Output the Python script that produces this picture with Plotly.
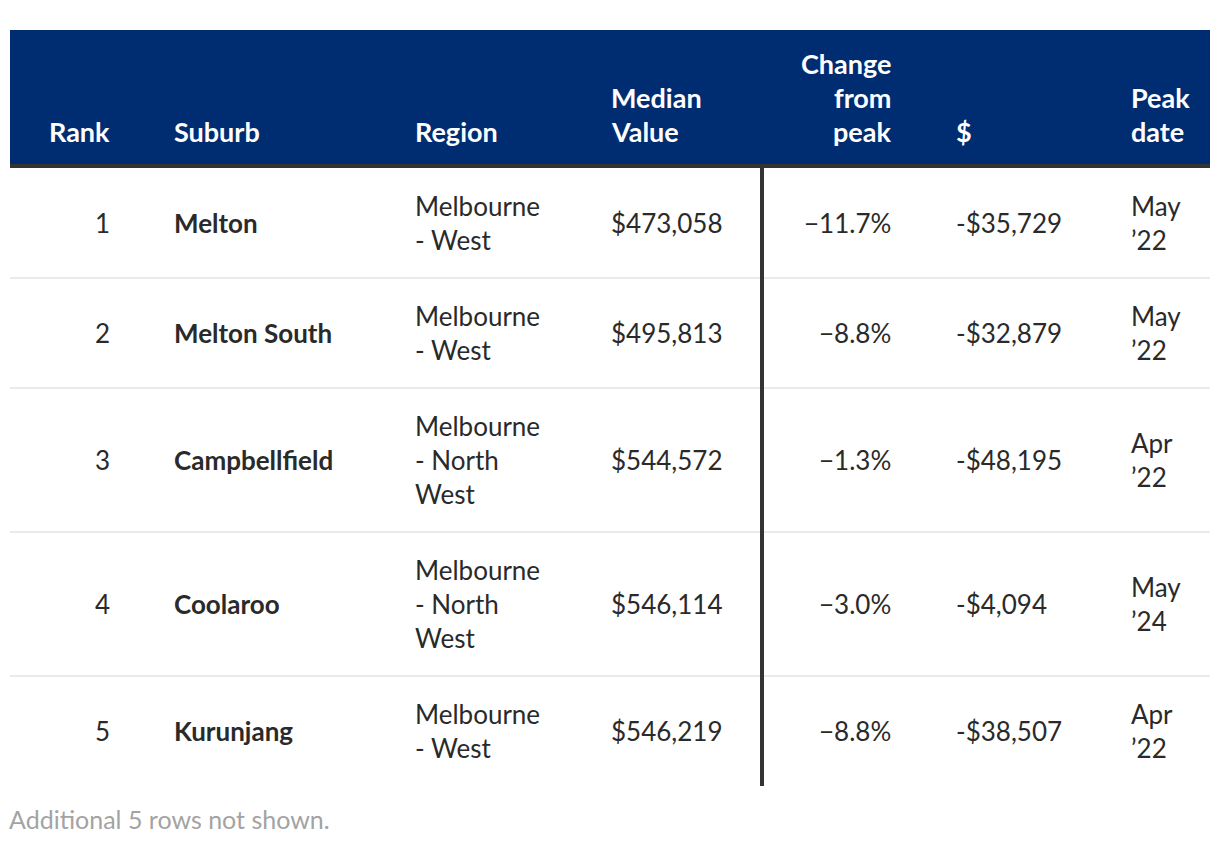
import textwrap
import plotly.graph_objects as go

# ---------------- data ----------------
ranks = ["1", "2", "3", "4", "5"]
suburbs = ["Melton", "Melton South", "Campbellfield", "Coolaroo", "Kurunjang"]
regions = ["Melbourne - West", "Melbourne - West", "Melbourne - North West",
           "Melbourne - North West", "Melbourne - West"]
median_values = ["$473,058", "$495,813", "$544,572", "$546,114", "$546,219"]
change_pct = ["−11.7%", "−8.8%", "−1.3%", "−3.0%", "−8.8%"]
change_dollar = ["-$35,729", "-$32,879", "-$48,195", "-$4,094", "-$38,507"]
peak_dates = ["May ’22", "May ’22", "Apr ’22", "May ’24", "Apr ’22"]
headers = ["Rank", "Suburb", "Region", "Median Value", "Change from peak", "$", "Peak date"]
footnote = "Additional 5 rows not shown."

# ---------------- style / layout ----------------
W, H = 1220, 846
OFF = 8  # page body margin
FONT = "Lato"
NAVY = "#002d72"
DARK = "#333333"
TEXT = "#2a2a2a"
SEP = "#ebebeb"
FS = 26
FS_HEAD = 27
LINE_H = 34
PAD_V = 42
TABLE_L, TABLE_R = 10, 1210
HEAD_TOP, HEAD_BOT = 30, 164
BODY_TOP = 168
# column anchors: (x, anchor, wrap width, bold)
cols = [
    (112, "right", 20, False),
    (172, "left", 30, True),
    (413, "left", 9, False),
    (609, "left", 8, False),
    (893, "right", 6, False),
    (954, "left", 12, False),
    (1129, "left", 4, False),
]
DIVIDER_X = 762

columns_data = [ranks, suburbs, regions, median_values, change_pct, change_dollar, peak_dates]


def wrap(s, w):
    return textwrap.wrap(s, w, break_on_hyphens=False) or [s]


fig = go.Figure()
shapes = []
annotations = []

# header background
shapes.append(dict(type="rect", x0=TABLE_L, x1=TABLE_R, y0=HEAD_TOP, y1=HEAD_BOT,
                   fillcolor=NAVY, line=dict(width=0), layer="below"))
shapes.append(dict(type="rect", x0=TABLE_L, x1=TABLE_R, y0=HEAD_BOT, y1=BODY_TOP,
                   fillcolor=DARK, line=dict(width=0), layer="below"))

# header text (bottom aligned)
HEAD_LAST_Y = 131
for (x, anc, w, _), h in zip(cols, headers):
    lines = wrap(h, w)
    n = len(lines)
    for i, ln in enumerate(lines):
        y = HEAD_LAST_Y - (n - 1 - i) * LINE_H
        annotations.append(dict(x=x, y=y, text="<b>" + ln + "</b>", showarrow=False,
                                xanchor=anc, yanchor="middle",
                                font=dict(family=FONT, size=FS_HEAD, color="white")))

# body rows
y_top = BODY_TOP
n_rows = len(ranks)
for r in range(n_rows):
    cell_lines = [wrap(columns_data[c][r], cols[c][2]) for c in range(len(cols))]
    nmax = max(len(l) for l in cell_lines)
    row_h = nmax * LINE_H + PAD_V
    cy = y_top + row_h / 2
    for c, lines in enumerate(cell_lines):
        x, anc, w, bold = cols[c]
        n = len(lines)
        for i, ln in enumerate(lines):
            y = cy + (i - (n - 1) / 2) * LINE_H
            txt = "<b>" + ln + "</b>" if bold else ln
            annotations.append(dict(x=x, y=y, text=txt, showarrow=False,
                                    xanchor=anc, yanchor="middle",
                                    font=dict(family=FONT, size=FS, color=TEXT)))
    y_top += row_h
    if r < n_rows - 1:
        shapes.append(dict(type="line", x0=TABLE_L, x1=TABLE_R, y0=y_top, y1=y_top,
                           line=dict(color=SEP, width=2)))
body_bottom = y_top

# vertical divider
shapes.append(dict(type="line", x0=DIVIDER_X, x1=DIVIDER_X, y0=BODY_TOP, y1=body_bottom,
                   line=dict(color=DARK, width=4)))

# footnote
annotations.append(dict(x=TABLE_L, y=body_bottom + 33, xshift=-3, text=footnote,
                        showarrow=False, xanchor="left", yanchor="middle",
                        font=dict(family=FONT, size=25, color="#a3a3a3")))

fig.update_layout(
    width=W, height=H,
    margin=dict(l=0, r=0, t=0, b=0),
    paper_bgcolor="white", plot_bgcolor="white",
    xaxis=dict(range=[OFF, W + OFF], visible=False, fixedrange=True),
    yaxis=dict(range=[H + OFF, OFF], visible=False, fixedrange=True),
    shapes=shapes, annotations=annotations, showlegend=False,
)
fig.write_html("out.html", config={"displayModeBar": False})
